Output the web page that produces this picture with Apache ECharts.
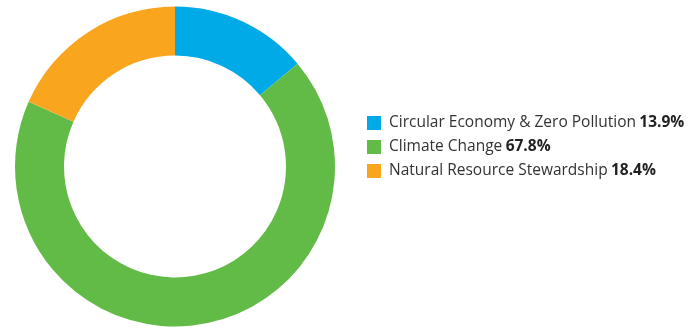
<!DOCTYPE html>
<html>
<head>
<meta charset="utf-8">
<script src="https://cdn.jsdelivr.net/npm/echarts@6/dist/echarts.min.js"></script>
<style>html,body{margin:0;padding:0;background:#fff;}#c{width:690px;height:328px;}</style>
</head>
<body>
<div id="c"></div>
<script>
var categories = ["Circular Economy & Zero Pollution", "Climate Change", "Natural Resource Stewardship"];
var values = [13.9, 67.8, 18.4];
var colors = ["#00AAE6", "#63BB47", "#F9A51D"];

var chart = echarts.init(document.getElementById('c'));
var data = categories.map(function (n, i) {
  return { name: n, value: values[i], itemStyle: { color: colors[i] } };
});
chart.setOption({
  animation: false,
  legend: {
    orient: 'vertical',
    left: 367,
    top: 115,
    padding: 0,
    itemWidth: 14,
    itemHeight: 14,
    itemGap: 8,
    icon: 'rect',
    data: categories,
    formatter: function (name) {
      var i = categories.indexOf(name);
      return '{a|' + name + '} {b|' + values[i].toFixed(1) + '%}';
    },
    textStyle: {
      padding: [0, 0, 0, 3],
      rich: {
        a: { fontFamily: 'Open Sans', fontSize: 15.5, color: '#333', lineHeight: 17 },
        b: { fontFamily: 'Open Sans', fontSize: 15.5, fontWeight: 'bold', color: '#222', lineHeight: 17 }
      }
    }
  },
  series: [{
    type: 'pie',
    center: [175, 166.5],
    radius: [111, 160],
    startAngle: 90,
    clockwise: true,
    label: { show: false },
    labelLine: { show: false },
    emphasis: { disabled: true },
    itemStyle: { borderWidth: 0 },
    data: data
  }]
});
</script>
</body>
</html>
